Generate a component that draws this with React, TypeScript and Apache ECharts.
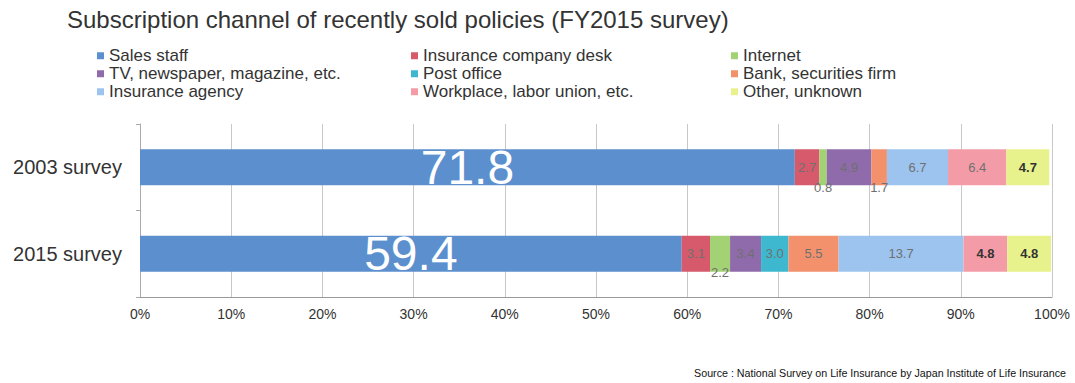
import React, { useEffect, useRef } from "react";
import * as echarts from "echarts";

const categories = ["2003 survey", "2015 survey"];
const channels = [
  "Sales staff",
  "Insurance company desk",
  "Internet",
  "TV, newspaper, magazine, etc.",
  "Post office",
  "Bank, securities firm",
  "Insurance agency",
  "Workplace, labor union, etc.",
  "Other, unknown",
];
const values2003: (number | null)[] = [71.8, 2.7, 0.8, 4.9, null, 1.7, 6.7, 6.4, 4.7];
const values2015: (number | null)[] = [59.4, 3.1, 2.2, 3.4, 3.0, 5.5, 13.7, 4.8, 4.8];
const xTicks = [0, 10, 20, 30, 40, 50, 60, 70, 80, 90, 100];

const colors = [
  "#5b8fcd",
  "#d65a6b",
  "#a3d274",
  "#8f6bab",
  "#3db8cf",
  "#f2916c",
  "#9cc4ef",
  "#f39ca7",
  "#e8f28c",
];

const FONT = "'Liberation Sans', Arial, sans-serif";

export default function App() {
  const ref = useRef<HTMLDivElement>(null);
  useEffect(() => {
    if (!ref.current) return;
    const chart = echarts.init(ref.current, null, { renderer: "svg" });
    const rows = [values2003, values2015];
    const series = channels.map((name, si) => ({
      name,
      type: "bar",
      stack: "total",
      barWidth: 36,
      itemStyle: { color: colors[si] },
      data: rows.map((row, ci) => {
        const v = row[si];
        if (v == null) return null;
        const isMain = si === 0;
        const below = v < 2.5;
        const bold = si === 8 || (si === 7 && ci === 1);
        return {
          value: v,
          label: {
            show: true,
            position: "inside",
            offset: below ? [0, ci === 0 ? 20 : 19] : [0, 0],
            formatter: (p: any) => Number(p.value).toFixed(1),
            fontFamily: FONT,
            fontSize: isMain ? 48 : 13,
            fontWeight: bold ? "bold" : "normal",
            color: isMain ? "#ffffff" : bold ? "#333333" : "#707070",
          },
        };
      }),
    }));

    const legendCommon = {
      orient: "vertical",
      icon: "rect",
      itemWidth: 7,
      itemHeight: 7,
      itemGap: 0.5,
      textStyle: { fontFamily: FONT, fontSize: 17, color: "#333", lineHeight: 17.5 },
      top: 47,
      padding: 0,
    };

    chart.setOption({
      animation: false,
      color: colors,
      title: {
        text: "Subscription channel of recently sold policies (FY2015 survey)",
        left: 67,
        top: 7,
        padding: 0,
        textStyle: { fontFamily: FONT, fontSize: 24, fontWeight: "normal", color: "#333" },
      },
      legend: [
        { ...legendCommon, left: 97, data: [channels[0], channels[3], channels[6]] },
        { ...legendCommon, left: 411, data: [channels[1], channels[4], channels[7]] },
        { ...legendCommon, left: 731, data: [channels[2], channels[5], channels[8]] },
      ],
      grid: { left: 140, right: 23, top: 124, bottom: 86, containLabel: false },
      xAxis: {
        type: "value",
        min: xTicks[0],
        max: xTicks[xTicks.length - 1],
        interval: 10,
        axisLine: { show: true, lineStyle: { color: "#999" } },
        axisTick: { show: false },
        splitLine: { show: true, lineStyle: { color: "#c8c8c8" } },
        axisLabel: {
          formatter: "{value}%",
          fontFamily: FONT,
          fontSize: 14,
          color: "#333",
          margin: 10,
        },
      },
      yAxis: {
        type: "category",
        data: categories,
        inverse: true,
        axisLine: { show: true, lineStyle: { color: "#aaa" } },
        axisTick: { show: true, length: 4, lineStyle: { color: "#aaa" } },
        axisLabel: { fontFamily: FONT, fontSize: 20, color: "#333", margin: 18 },
      },
      series,
      graphic: [
        {
          type: "text",
          right: 9,
          top: 367,
          style: {
            text: "Source : National Survey on Life Insurance by Japan Institute of Life Insurance",
            fontFamily: "'Liberation Sans Narrow', 'Liberation Sans', sans-serif",
            fontSize: 10.7,
            fill: "#111",
          },
        },
      ],
    });
    return () => chart.dispose();
  }, []);
  return <div ref={ref} style={{ width: 1075, height: 383, position: "absolute", left: 0, top: 0 }} />;
}
